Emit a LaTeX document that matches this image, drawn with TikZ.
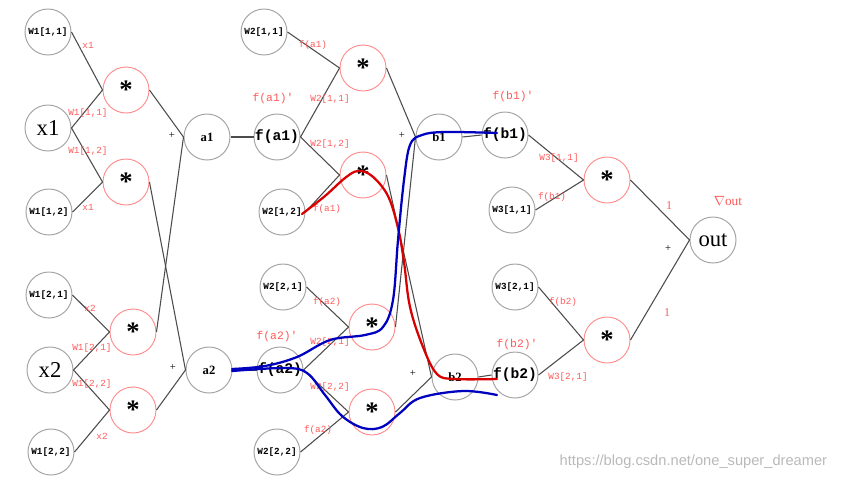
\documentclass[tikz,border=0pt]{standalone}
\usepackage{fontspec}
\setmainfont{Liberation Serif}
\setsansfont{Liberation Sans}
\setmonofont{Liberation Mono}

\tikzset{
  var/.style={circle, draw=gray!70, line width=0.75pt, minimum size=34.5pt, inner sep=0pt, font=\ttfamily\bfseries\fontsize{7}{7}\selectfont},
  big/.style={font=\fontsize{17}{17}\selectfont},
  sum/.style={font=\bfseries\fontsize{9.5}{9.5}\selectfont},
  fun/.style={font=\ttfamily\bfseries\fontsize{11}{11}\selectfont},
  mul/.style={circle, draw=red!45, line width=0.7pt, minimum size=34.5pt, inner sep=0pt, font=\bfseries\fontsize{20}{20}\selectfont},
  lbl/.style={text=red!65, inner sep=1pt, font=\ttfamily\fontsize{7}{7}\selectfont},
  edge/.style={draw=black!70, line width=0.8pt},
  pen/.style={line width=1.7pt, line cap=round, line join=round},
}

\begin{document}
\begin{tikzpicture}[x=0.75pt, y=-0.75pt]
  \useasboundingbox (0,0) rectangle (856,480);

  % Layer 1
  \node[var] (w111) at (48,32)  {W1[1,1]};
  \node[var, big] (x1) at (48,128) {x1};
  \node[var] (w112) at (49,212) {W1[1,2]};
  \node[var] (w121) at (49,295) {W1[2,1]};
  \node[var, big] (x2) at (50,370) {x2};
  \node[var] (w122) at (51,452) {W1[2,2]};

  \node[mul] (m1) at (126,90)  {\raisebox{-1.2ex}{*}};
  \node[mul] (m2) at (126,182) {\raisebox{-1.2ex}{*}};
  \node[mul] (m3) at (133,332) {\raisebox{-1.2ex}{*}};
  \node[mul] (m4) at (133,410) {\raisebox{-1.2ex}{*}};

  \node[var, sum] (a1) at (207,137) {a1};
  \node[var, sum] (a2) at (209,370) {a2};

  % Layer 2
  \node[var] (w211) at (264,32)  {W2[1,1]};
  \node[var, fun] (fa1) at (277,137) {f(a1)};
  \node[var] (w212) at (282,212) {W2[1,2]};
  \node[var] (w221) at (283,287) {W2[2,1]};
  \node[var, fun] (fa2) at (280,370) {f(a2)};
  \node[var] (w222) at (277,452) {W2[2,2]};

  \node[mul] (m5) at (363,68)  {\raisebox{-1.2ex}{*}};
  \node[mul] (m6) at (363,175) {\raisebox{-1.2ex}{*}};
  \node[mul] (m7) at (372,327) {\raisebox{-1.2ex}{*}};
  \node[mul] (m8) at (372,412) {\raisebox{-1.2ex}{*}};

  \node[var, sum] (b1) at (439,137) {b1};
  \node[var, sum] (b2) at (455,377) {b2};

  % Layer 3
  \node[var, fun] (fb1) at (505,135) {f(b1)};
  \node[var] (w311) at (512,210) {W3[1,1]};
  \node[var] (w321) at (515,287) {W3[2,1]};
  \node[var, fun] (fb2) at (515,375) {f(b2)};

  \node[mul] (m9)  at (607,180) {\raisebox{-1.2ex}{*}};
  \node[mul] (m10) at (607,340) {\raisebox{-1.2ex}{*}};

  \node[var, big] (out) at (713,240) {out};

  % Edges
  \foreach \s/\t in {w111/m1, x1/m1, x1/m2, w112/m2, w121/m3, x2/m3, x2/m4, w122/m4,
                     m1/a1, m3/a1, m2/a2, m4/a2, a1/fa1, a2/fa2,
                     w211/m5, fa1/m5, fa1/m6, w212/m6, w221/m7, fa2/m7, fa2/m8, w222/m8,
                     m5/b1, m7/b1, m6/b2, m8/b2, b1/fb1, b2/fb2,
                     fb1/m9, w311/m9, w321/m10, fb2/m10, m9/out, m10/out}
    \draw[edge] (\s.east) -- (\t.west);

  % Gradient labels
  \foreach \x/\y/\t [count=\i] in {88/45/x1, 88/113/{W1[1,1]}, 88/151/{W1[1,2]}, 88/207/x1,
                                   90/308/x2, 92/348/{W1[2,1]}, 92/384/{W1[2,2]}, 102/436/x2,
                                   313/45/f(a1), 330/99/{W2[1,1]}, 330/144/{W2[1,2]}, 327/209/f(a1),
                                   327/302/f(a2), 330/342/{W2[2,1]}, 330/387/{W2[2,2]}, 318/430/f(a2),
                                   559/158/{W3[1,1]}, 552/197/f(b1), 563/302/f(b2), 568/377/{W3[2,1]}}
    \node[lbl] (g\i) at (\x,\y) {\t};
  \node[lbl, font=\ttfamily\fontsize{8.5}{8.5}\selectfont] (da1) at (273,99)  {f(a1)'};
  \node[lbl, font=\ttfamily\fontsize{8.5}{8.5}\selectfont] (da2) at (277,337) {f(a2)'};
  \node[lbl, font=\ttfamily\fontsize{8.5}{8.5}\selectfont] (db1) at (513,97)  {f(b1)'};
  \node[lbl, font=\ttfamily\fontsize{8.5}{8.5}\selectfont] (db2) at (517,345) {f(b2)'};
  \node[lbl, font=\fontsize{9}{9}\selectfont] (one1) at (669,206) {1};
  \node[lbl, font=\fontsize{9}{9}\selectfont] (one2) at (667,313) {1};
  \node[lbl, font=\fontsize{10}{10}\selectfont] (dout) at (728,201) {$\nabla$out};

  % Plus signs
  \foreach \x/\y [count=\i] in {172/135, 173/367, 402/135, 413/373, 668/248}
    \node[font=\fontsize{8}{8}\selectfont] (p\i) at (\x,\y) {+};

  % Hand drawn paths
  \draw[pen, red!85!black] plot[smooth, tension=0.6] coordinates
    {(302,214) (325,196) (345,178) (358,171) (372,176) (388,196) (398,228) (404,262)
     (410,307) (423,347) (437,374) (455,379) (497,379)};
  \draw[pen, blue!75!black] plot[smooth, tension=0.6] coordinates
    {(232,369) (265,366) (297,357) (330,340) (365,335) (383,327) (393,300) (398,240)
     (404,180) (410,145) (422,135) (445,132) (497,133)};
  \draw[pen, blue!75!black] plot[smooth, tension=0.6] coordinates
    {(232,371) (285,368) (307,373) (325,395) (342,416) (363,428) (382,427) (400,413)
     (420,398) (463,391) (497,395)};

  % Watermark
  \node[anchor=west, text=gray!55, font=\sffamily\fontsize{11}{11}\selectfont] (mark) at (555,462)
    {https://blog.csdn.net/one\_super\_dreamer};
\end{tikzpicture}
\end{document}
